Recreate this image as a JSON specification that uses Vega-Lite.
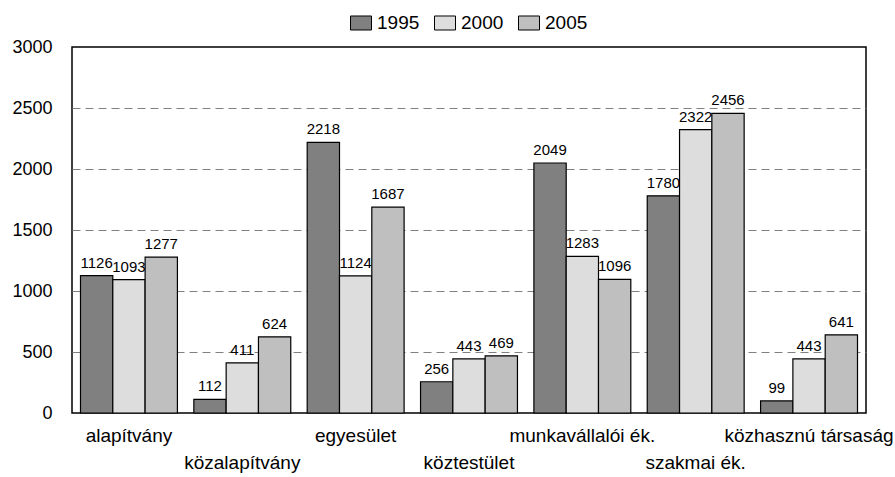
{
  "$schema": "https://vega.github.io/schema/vega-lite/v6.json",
  "width": 794,
  "height": 366,
  "autosize": {"type": "none"},
  "padding": {"left": 72, "top": 47, "right": 29, "bottom": 64},
  "background": "white",
  "config": {
    "font": "Liberation Sans",
    "view": {"stroke": "black", "strokeWidth": 1.5}
  },
  "data": {
    "values": [
      {"cat": "alapítvány", "year": "1995", "value": 1126},
      {"cat": "alapítvány", "year": "2000", "value": 1093},
      {"cat": "alapítvány", "year": "2005", "value": 1277},
      {"cat": "közalapítvány", "year": "1995", "value": 112},
      {"cat": "közalapítvány", "year": "2000", "value": 411},
      {"cat": "közalapítvány", "year": "2005", "value": 624},
      {"cat": "egyesület", "year": "1995", "value": 2218},
      {"cat": "egyesület", "year": "2000", "value": 1124},
      {"cat": "egyesület", "year": "2005", "value": 1687},
      {"cat": "köztestület", "year": "1995", "value": 256},
      {"cat": "köztestület", "year": "2000", "value": 443},
      {"cat": "köztestület", "year": "2005", "value": 469},
      {"cat": "munkavállalói ék.", "year": "1995", "value": 2049},
      {"cat": "munkavállalói ék.", "year": "2000", "value": 1283},
      {"cat": "munkavállalói ék.", "year": "2005", "value": 1096},
      {"cat": "szakmai ék.", "year": "1995", "value": 1780},
      {"cat": "szakmai ék.", "year": "2000", "value": 2322},
      {"cat": "szakmai ék.", "year": "2005", "value": 2456},
      {"cat": "közhasznú társaság", "year": "1995", "value": 99},
      {"cat": "közhasznú társaság", "year": "2000", "value": 443},
      {"cat": "közhasznú társaság", "year": "2005", "value": 641}
    ]
  },
  "encoding": {
    "x": {
      "field": "cat",
      "type": "nominal",
      "sort": null,
      "scale": {"paddingInner": 0.145, "paddingOuter": 0.075},
      "axis": {
        "title": null,
        "labelAngle": 0,
        "ticks": false,
        "tickSize": 0,
        "domain": false,
        "labelFontSize": 19,
        "labelColor": "black",
        "labelBaseline": "top",
        "labelPadding": {
          "condition": {"test": "indexof(['közalapítvány','köztestület','szakmai ék.'], datum.value) >= 0", "value": 40},
          "value": 13
        }
      }
    },
    "xOffset": {
      "field": "year",
      "type": "nominal",
      "scale": {"paddingInner": 0, "paddingOuter": 0}
    },
    "y": {
      "field": "value",
      "type": "quantitative",
      "scale": {"domain": [0, 3000], "nice": false},
      "axis": {
        "title": null,
        "values": [0, 500, 1000, 1500, 2000, 2500, 3000],
        "format": "d",
        "ticks": false,
        "tickSize": 0,
        "domain": false,
        "labelFontSize": 18,
        "labelColor": "black",
        "labelPadding": 20,
        "grid": true,
        "gridColor": "#808080",
        "gridDash": [8, 5],
        "gridWidth": 1,
        "gridOpacity": {
          "condition": {"test": "datum.value == 0 || datum.value == 3000", "value": 0},
          "value": 1
        }
      }
    }
  },
  "layer": [
    {
      "mark": {"type": "bar", "stroke": "black", "strokeWidth": 1.2},
      "encoding": {
        "color": {
          "field": "year",
          "type": "nominal",
          "scale": {"domain": ["1995", "2000", "2005"], "range": ["#808080", "#dddddd", "#bfbfbf"]},
          "legend": {
            "title": null,
            "orient": "none",
            "direction": "horizontal",
            "legendX": 278,
            "legendY": -35,
            "symbolType": "M-1,-0.667H1V0.667H-1Z",
            "symbolSize": 441,
            "symbolStrokeColor": "black",
            "symbolStrokeWidth": 1,
            "labelFontSize": 19,
            "labelColor": "black",
            "labelOffset": 5,
            "columnPadding": 12
          }
        }
      }
    },
    {
      "mark": {"type": "text", "baseline": "alphabetic", "dy": -8, "fontSize": 15, "color": "black"},
      "encoding": {
        "text": {"field": "value", "type": "quantitative"}
      }
    }
  ]
}
